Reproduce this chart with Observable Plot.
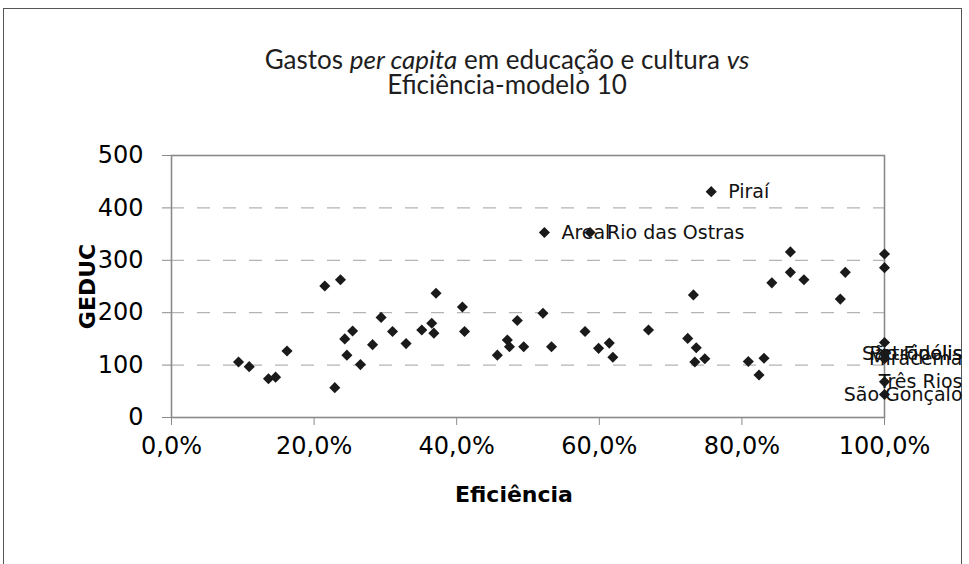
<!DOCTYPE html>
<html>
<head>
<meta charset="utf-8">
<script src="https://cdn.jsdelivr.net/npm/d3@7"></script>
<script src="https://cdn.jsdelivr.net/npm/@observablehq/plot@0.6"></script>
<style>
  html, body { margin: 0; padding: 0; background: #fff; }
  #wrap { position: relative; width: 969px; height: 564px; overflow: hidden; }
  #border { position: absolute; left: 3px; top: 8px; width: 959px; height: 600px; border: 1.5px solid #555; box-sizing: border-box; }
  #title { position: absolute; left: 0; width: 1014px; top: 47px; text-align: center; font-family: Lato, sans-serif; font-size: 26px; line-height: 25px; color: #1e1e1e; }
  #chart { position: absolute; left: 0; top: 0; }
</style>
</head>
<body>
<div id="wrap">
  <div id="border"></div>
  <div id="title">Gastos <i>per capita</i> em educação e cultura <i>vs</i><br>Eficiência-modelo 10</div>
  <div id="chart"></div>
</div>
<script>
// Efficiency (share) and per-capita spending on education & culture (GEDUC)
const eficiencia = [0.094, 0.109, 0.136, 0.146, 0.162, 0.215, 0.237, 0.229, 0.243, 0.246,
  0.254, 0.265, 0.282, 0.294, 0.310, 0.329, 0.351, 0.365, 0.368, 0.371,
  0.408, 0.411, 0.457, 0.471, 0.474, 0.485, 0.494, 0.521, 0.523, 0.533,
  0.580, 0.587, 0.599, 0.614, 0.619, 0.669, 0.724, 0.732, 0.734, 0.736,
  0.748, 0.757, 0.809, 0.824, 0.831, 0.842, 0.868, 0.868, 0.887, 0.938,
  0.945, 1.0, 1.0, 1.0, 1.0, 1.0, 1.0, 1.0, 1.0];
const geduc = [106, 97, 74, 77, 127, 251, 263, 57, 150, 119,
  165, 101, 139, 191, 164, 141, 167, 180, 161, 237,
  211, 164, 119, 148, 135, 185, 135, 199, 353, 135,
  164, 353, 132, 142, 115, 167, 151, 234, 106, 133,
  112, 431, 107, 81, 113, 257, 316, 277, 263, 226,
  277, 312, 286, 143, 122, 122, 112, 68, 44];
const municipio = ["", "", "", "", "", "", "", "", "", "",
  "", "", "", "", "", "", "", "", "", "",
  "", "", "", "", "", "", "", "", "Areal", "",
  "", "Rio das Ostras", "", "", "", "", "", "", "", "",
  "", "Piraí", "", "", "", "", "", "", "", "",
  "", "", "", "", "São Fidélis", "Petrópolis", "Miracema", "Três Rios", "São Gonçalo"];

const xTicks = [0, 0.2, 0.4, 0.6, 0.8, 1.0];
const xTickLabels = ["0,0%", "20,0%", "40,0%", "60,0%", "80,0%", "100,0%"];
const yTicks = [0, 100, 200, 300, 400, 500];
const yGrid = [100, 200, 300, 400];

const data = eficiencia.map((e, i) => ({x: e, y: geduc[i], name: municipio[i]}));
const labelRight = data.filter(d => d.name && d.x < 1);
const labelEdge = data.filter(d => d.name && d.x >= 1);

const font = "DejaVu Sans";
const chart = Plot.plot({
  width: 969,
  height: 564,
  marginLeft: 171,
  marginRight: 85,
  marginTop: 155,
  marginBottom: 147,
  style: {fontFamily: font, background: "transparent", color: "#000", overflow: "visible"},
  x: {domain: [0, 1]},
  y: {domain: [0, 500]},
  marks: [
    Plot.gridY(yGrid, {stroke: "#b4b4b4", strokeOpacity: 1, strokeWidth: 1.2, strokeDasharray: "13,13"}),
    Plot.frame({stroke: "#8a8a8a", strokeWidth: 1.6}),
    Plot.axisY({ticks: yTicks, tickSize: 9, tickPadding: 19, fontSize: 24, label: null,
      stroke: "#8a8a8a", fill: "#000", fontFamily: font}),
    Plot.axisX({ticks: xTicks, tickSize: 8, tickPadding: 11, fontSize: 24, label: null,
      tickFormat: (d) => xTickLabels[xTicks.indexOf(d)],
      stroke: "#8a8a8a", fill: "#000", fontFamily: font}),
    Plot.text(["Eficiência"], {frameAnchor: "bottom", textAnchor: "middle", lineAnchor: "middle",
      dx: -14, dy: 77, fontSize: 22, fontWeight: "bold", fill: "#000", fontFamily: font}),
    Plot.text(["GEDUC"], {frameAnchor: "left", textAnchor: "middle", lineAnchor: "middle",
      dx: -84, rotate: -90, fontSize: 22, fontWeight: "bold", fill: "#000", fontFamily: font}),
    Plot.text(labelRight, {x: "x", y: "y", text: "name", dx: 17, textAnchor: "start", fontSize: 19, fill: "#111", fontFamily: font}),
    Plot.text(labelEdge, {x: "x", y: "y", text: "name", dx: 78, textAnchor: "end", fontSize: 19, fill: "#111", fontFamily: font}),
    Plot.dot(data, {x: "x", y: "y", symbol: "diamond2", r: 5, fill: "#1a1a1a", stroke: "none"})
  ]
});
document.getElementById("chart").appendChild(chart);
</script>
</body>
</html>
